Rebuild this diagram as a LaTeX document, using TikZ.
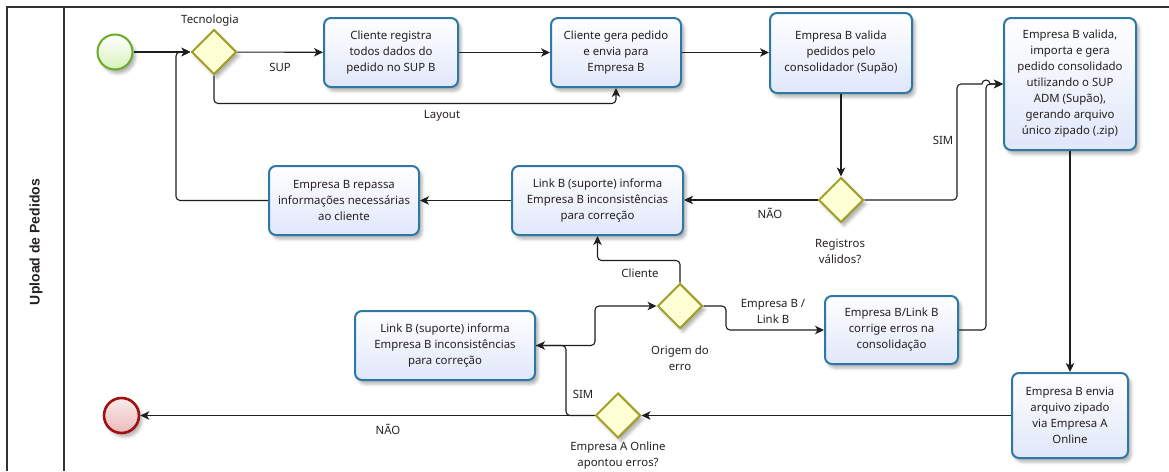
\documentclass[tikz,border=0pt]{standalone}
\usepackage{fontspec}
\setmainfont{Noto Sans}
\newfontfamily\lanefont{Liberation Sans}
\usetikzlibrary{arrows.meta,shapes.geometric,shadows.blur,calc}

\definecolor{taskline}{RGB}{46,120,165}
\definecolor{taskfill}{RGB}{224,231,250}
\definecolor{gwline}{RGB}{160,160,40}
\definecolor{gwfill}{RGB}{255,255,214}
\definecolor{startline}{RGB}{106,172,40}
\definecolor{startfill}{RGB}{214,242,188}
\definecolor{endline}{RGB}{160,16,16}
\definecolor{endfill}{RGB}{236,186,186}
\definecolor{ink}{RGB}{38,32,32}
\definecolor{frameline}{RGB}{50,50,50}
\definecolor{connline}{RGB}{30,30,30}

\begin{document}
\begin{tikzpicture}[x=1pt,y=-1pt,
  font=\fontsize{11.4}{16}\selectfont, text=ink,
  softshadow/.style={blur shadow={shadow xshift=3pt,shadow yshift=-4pt,
      shadow opacity=30,shadow blur radius=3pt}},
  task/.style={rectangle, rounded corners=7pt, draw=taskline, line width=2pt,
      top color=white, bottom color=taskfill, align=center, inner sep=3pt,
      softshadow},
  gateway/.style={diamond, aspect=1, draw=gwline, line width=2pt, fill=gwfill,
      minimum width=45pt, minimum height=45pt, inner sep=0pt, softshadow},
  startev/.style={circle, draw=startline, line width=2pt, top color=white,
      bottom color=startfill, minimum size=35pt, inner sep=0pt, softshadow},
  endev/.style={circle, draw=endline, line width=2.6pt, top color=white!70!endfill,
      bottom color=endfill, minimum size=35pt, inner sep=0pt, softshadow},
  conn/.style={draw=connline, line width=1.1pt, rounded corners=4pt},
  flow/.style={conn, -{Stealth[length=9pt,width=8.5pt,inset=2.5pt]}},
  lbl/.style={align=center, inner sep=0pt},
  frame/.style={draw=frameline, line width=1.3pt}
]
\useasboundingbox (0,0) rectangle (1169,471);

% pool frame and lane header
\draw[frame] (7,471) -- (7,7) -- (1169,7);
\draw[frame] (64,7) -- (64,471);
\node[rotate=90, font=\lanefont\bfseries\fontsize{14}{16}\selectfont] (lane) at (36,242) {Upload de Pedidos};

% events
\node[startev] (start) at (115,52) {};
\node[endev] (end) at (121.5,415.5) {};

% gateways
\node[gateway] (g1) at (214,52) {};
\node[gateway] (g2) at (841,200) {};
\node[gateway] (g3) at (680,306) {};
\node[gateway] (g4) at (618,415.5) {};

% tasks
\node[task, minimum width=134pt, minimum height=69pt] (b1) at (391,52.5)
  {Cliente registra\\todos dados do\\pedido no SUP B};
\node[task, minimum width=130pt, minimum height=69pt] (b2) at (616,52.5)
  {Cliente gera pedido\\e envia para\\Empresa B};
\node[task, minimum width=142pt, minimum height=80pt] (b3) at (841,53)
  {Empresa B valida\\pedidos pelo\\consolidador (Supão)};
\node[task, minimum width=132pt, minimum height=132pt] (b4) at (1070,84)
  {Empresa B valida,\\importa e gera\\pedido consolidado\\utilizando o SUP\\ADM (Supão),\\gerando arquivo\\único zipado (.zip)};
\node[task, minimum width=150pt, minimum height=69pt] (b5) at (344,200.5)
  {Empresa B repassa\\informações necessárias\\ao cliente};
\node[task, minimum width=171pt, minimum height=69pt] (b6) at (597.5,200.5)
  {Link B (suporte) informa\\Empresa B inconsistências\\para correção};
\node[task, minimum width=180pt, minimum height=69pt] (b7) at (445,345.5)
  {Link B (suporte) informa\\Empresa B inconsistências\\para correção};
\node[task, minimum width=133pt, minimum height=68pt] (b8) at (891.5,330)
  {Empresa B/Link B\\corrige erros na\\consolidação};
\node[task, minimum width=116pt, minimum height=85pt] (b9) at (1070,415.5)
  {Empresa B envia\\arquivo zipado\\via Empresa A\\Online};

% sequence flows
\draw[flow] (start) -- (g1);
\draw[flow] (b5.west) -| (176,52) -- (g1.west);
\draw[flow] (g1) -- (b1);
\draw[flow] (g1.south) -- ++(0,28) -| (b2.south);
\draw[flow] (b1) -- (b2);
\draw[flow] (b2.east) -- (b2.east -| b3.west);
\draw[flow] (b3) -- (g2);
\draw[flow] (g2.west) -- (g2.west -| b6.east);
\draw[conn] (g2.east) -| (957,84) -- (982,84);
\draw[flow, rounded corners=0pt] (982,84) arc[start angle=180, end angle=360, radius=4] -- (b4.west);
\draw[flow] (b8.east) -| (986,84) -- (b4.west);
\draw[flow] (b4) -- (b9);
\draw[flow] (b9.west) -- (b9.west -| g4.east);
\draw[flow] (g4.west) -- (g4.west -| end.east);
\draw[flow] (g4.west) -| (566,345.5) -- (b7.east);
\draw[flow] (b7.east) -- (595,345.5) |- (g3.west);
\draw[flow] (g3.north) -- ++(0,-22) -| (b6.south);
\draw[flow] (g3.east) -- (726,306) |- (b8.west);
\draw[flow] (b6.west) -- (b5.east);

% labels
\node[lbl] (tTec) at (210,21) {Tecnologia};
\node[lbl] (tSup) at (280,67) {SUP};
\node[lbl] (tLay) at (442,116) {Layout};
\node[lbl] (tNao1) at (770,213) {NÃO};
\node[lbl] (tSim1) at (943,140) {SIM};
\node[lbl] (tReg) at (840,251) {Registros\\válidos?};
\node[lbl] (tCli) at (640,273) {Cliente};
\node[lbl] (tEmp) at (773,311) {Empresa B /\\Link B};
\node[lbl] (tOri) at (680,358) {Origem do\\erro};
\node[lbl] (tSim2) at (583,394) {SIM};
\node[lbl] (tNao2) at (388,429) {NÃO};
\node[lbl] (tOnl) at (618,456) {Empresa A Online\\apontou erros?};
\end{tikzpicture}
\end{document}
